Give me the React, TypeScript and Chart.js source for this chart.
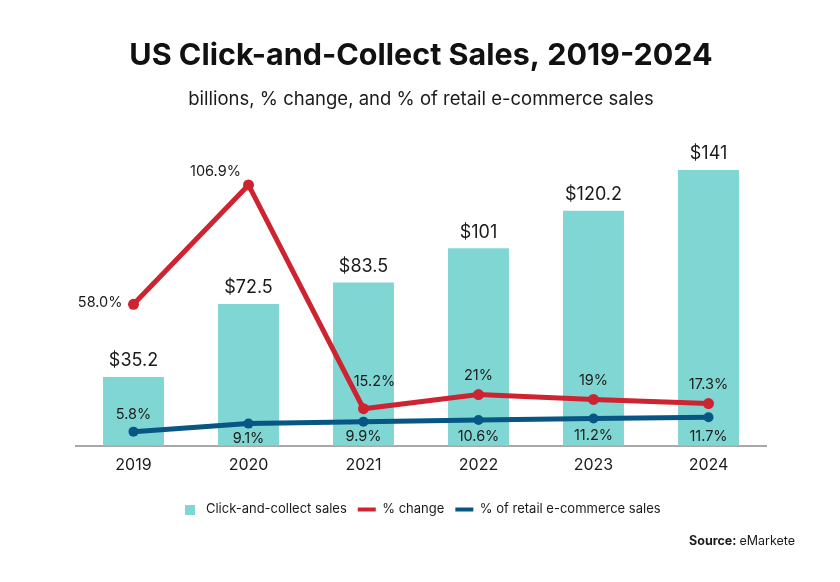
import React, { useEffect, useRef } from "react";
import { Chart, registerables } from "chart.js";

Chart.register(...registerables);

const categories = ["2019", "2020", "2021", "2022", "2023", "2024"];
const sales = [35.2, 72.5, 83.5, 101, 120.2, 141];
const salesLabels = ["$35.2", "$72.5", "$83.5", "$101", "$120.2", "$141"];
const pctChange = [58.0, 106.9, 15.2, 21, 19, 17.3];
const pctChangeLabels = ["58.0%", "106.9%", "15.2%", "21%", "19%", "17.3%"];
const pctRetail = [5.8, 9.1, 9.9, 10.6, 11.2, 11.7];
const pctRetailLabels = ["5.8%", "9.1%", "9.9%", "10.6%", "11.2%", "11.7%"];

const FONT = "Inter, 'DejaVu Sans', sans-serif";
const TEAL = "#80D6D3";
const RED = "#CE2330";
const BLUE = "#075684";
const TEXT = "#1b1b1b";

// label placement (style only)
const barLabelOffset = -16;
const changeLabelPlacement = [
  { dx: -11, dy: -2, align: "right" },
  { dx: -33, dy: -13, align: "center" },
  { dx: 11, dy: -27, align: "center" },
  { dx: 0, dy: -19, align: "center" },
  { dx: 0, dy: -19, align: "center" },
  { dx: 0, dy: -19, align: "center" },
];
const retailLabelPlacement = [
  { dx: 0, dy: -17 },
  { dx: 0, dy: 15 },
  { dx: 0, dy: 15 },
  { dx: 0, dy: 17 },
  { dx: 0, dy: 17 },
  { dx: 0, dy: 19 },
];

const labelsPlugin = {
  id: "valueLabels",
  afterDatasetsDraw(chart: any) {
    const ctx = chart.ctx;
    ctx.save();
    ctx.fillStyle = TEXT;
    ctx.textBaseline = "middle";
    const m0 = chart.getDatasetMeta(0);
    ctx.font = `18px ${FONT}`;
    ctx.textAlign = "center";
    m0.data.forEach((el: any, i: number) => {
      ctx.fillText(salesLabels[i], el.x, el.y + barLabelOffset);
    });
    ctx.font = `14.5px ${FONT}`;
    const m1 = chart.getDatasetMeta(1);
    m1.data.forEach((el: any, i: number) => {
      const p = changeLabelPlacement[i];
      ctx.textAlign = p.align;
      ctx.fillText(pctChangeLabels[i], el.x + p.dx, el.y + p.dy);
    });
    const m2 = chart.getDatasetMeta(2);
    ctx.textAlign = "center";
    m2.data.forEach((el: any, i: number) => {
      const p = retailLabelPlacement[i];
      ctx.fillText(pctRetailLabels[i], el.x + p.dx, el.y + p.dy);
    });
    ctx.restore();
  },
  afterDraw(chart: any) {
    const ctx = chart.ctx;
    ctx.save();
    ctx.fillStyle = TEXT;
    ctx.textBaseline = "middle";
    ctx.textAlign = "left";
    ctx.font = `bold 12.5px ${FONT}`;
    const a = "Source: ";
    const b = "eMarkete";
    const wa = ctx.measureText(a).width;
    ctx.font = `12.5px ${FONT}`;
    const wb = ctx.measureText(b).width;
    const right = 795;
    const x0 = right - wa - wb;
    ctx.font = `bold 12.5px ${FONT}`;
    ctx.fillText(a, x0, 541);
    ctx.font = `12.5px ${FONT}`;
    ctx.fillText(b, x0 + wa, 541);
    ctx.restore();
  },
};

function makeSquare(color: string, size: number) {
  const c = document.createElement("canvas");
  c.width = size;
  c.height = size;
  const g = c.getContext("2d")!;
  g.fillStyle = color;
  g.fillRect(0, 0, size, size);
  return c;
}

export default function App() {
  const ref = useRef<HTMLCanvasElement>(null);
  useEffect(() => {
    const canvas = ref.current!;
    const square = makeSquare(TEAL, 10);
    const chart = new Chart(canvas, {
      type: "bar",
      data: {
        labels: categories,
        datasets: [
          {
            type: "bar",
            label: "Click-and-collect sales",
            data: sales,
            backgroundColor: TEAL,
            borderWidth: 0,
            yAxisID: "y",
            barPercentage: 0.53,
            categoryPercentage: 1,
            order: 3,
          } as any,
          {
            type: "line",
            label: "% change",
            data: pctChange,
            borderColor: RED,
            backgroundColor: RED,
            borderWidth: 5,
            pointRadius: 5.5,
            pointBackgroundColor: RED,
            pointBorderWidth: 0,
            pointStyle: "circle",
            yAxisID: "y1",
            order: 1,
          } as any,
          {
            type: "line",
            label: "% of retail e-commerce sales",
            data: pctRetail,
            borderColor: BLUE,
            backgroundColor: BLUE,
            borderWidth: 5,
            pointRadius: 5,
            pointBackgroundColor: BLUE,
            pointBorderWidth: 0,
            pointStyle: "circle",
            yAxisID: "y1",
            order: 2,
          } as any,
        ],
      },
      options: {
        responsive: false,
        animation: false,
        layout: { padding: { top: 0, left: 76, right: 74, bottom: 56 } },
        plugins: {
          title: {
            display: true,
            text: "US Click-and-Collect Sales, 2019-2024",
            color: "#111",
            font: { family: FONT, size: 30.5, weight: "bold" },
            padding: { top: 38, bottom: 14 },
          },
          subtitle: {
            display: true,
            text: "billions, % change, and % of retail e-commerce sales",
            color: TEXT,
            font: { family: FONT, size: 18.5 },
            padding: { top: 0, bottom: 29 },
          },
          legend: {
            display: true,
            position: "bottom",
            labels: {
              usePointStyle: true,
              boxHeight: 10,
              pointStyleWidth: 18,
              padding: 11,
              color: TEXT,
              font: { family: FONT, size: 13 },
              generateLabels: (chart: any) =>
                chart.data.datasets.map((ds: any, i: number) => ({
                  text: ds.label,
                  fillStyle: ds.backgroundColor,
                  strokeStyle: i === 0 ? ds.backgroundColor : ds.borderColor,
                  lineWidth: i === 0 ? 0 : 4,
                  pointStyle: i === 0 ? square : "line",
                  datasetIndex: i,
                  hidden: false,
                  fontColor: TEXT,
                })),
            },
          },
          tooltip: { enabled: false },
        },
        scales: {
          x: {
            type: "category",
            offset: true,
            grid: { display: false, drawTicks: false },
            border: { display: true, color: "#a8a8a8", width: 2 },
            ticks: { color: TEXT, font: { family: FONT, size: 16 }, padding: 10 },
            afterFit: (axis: any) => {
              axis.height += 7;
            },
          },
          y: { display: false, min: 0, max: 156.4 },
          y1: { display: false, min: 0, max: 125.4 },
        },
      } as any,
      plugins: [labelsPlugin],
    });
    return () => chart.destroy();
  }, []);
  return (
    <div style={{ position: "fixed", left: 0, top: 0, width: 840, height: 582, background: "#fff" }}>
      <canvas ref={ref} width={840} height={582} style={{ display: "block" }} />
    </div>
  );
}
